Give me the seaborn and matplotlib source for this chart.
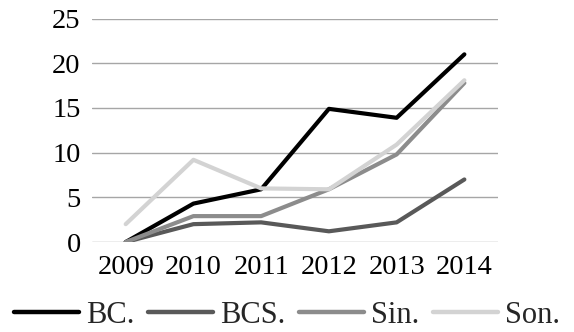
import matplotlib
matplotlib.use("Agg")
import matplotlib.pyplot as plt
import seaborn as sns
import pandas as pd

years = ["2009", "2010", "2011", "2012", "2013", "2014"]
bc = [0.0, 4.3, 5.9, 14.9, 13.9, 21.0]
bcs = [0.0, 2.0, 2.2, 1.2, 2.2, 7.0]
sin = [0.0, 2.9, 2.9, 5.9, 9.8, 17.8]
son = [2.0, 9.2, 6.0, 5.9, 10.9, 18.1]
series_names = ["BC.", "BCS.", "Sin.", "Son."]
palette = ["#000000", "#595959", "#8c8c8c", "#d3d3d3"]

frames = []
for name, vals in zip(series_names, [bc, bcs, sin, son]):
    frames.append(pd.DataFrame({"pos": range(len(years)), "value": vals, "serie": name}))
df = pd.concat(frames, ignore_index=True)

sns.set_theme(style="white")
plt.rcParams["font.family"] = ["Liberation Serif", "DejaVu Serif"]

fig = plt.figure(figsize=(5.74, 3.32), dpi=100)
ax = fig.add_axes([0.160, 0.271, 0.708, 0.673])

sns.lineplot(data=df, x="pos", y="value", hue="serie", hue_order=series_names,
             palette=palette, linewidth=3.0, ax=ax, legend=False,
             solid_joinstyle="round", solid_capstyle="round")

ax.set_xlim(-0.5, len(years) - 0.5)
ax.set_ylim(0, 25)
ax.set_yticks([0, 5, 10, 15, 20, 25])
ax.set_xticks(range(len(years)))
ax.set_xticklabels(years)
ax.set_xlabel("")
ax.set_ylabel("")
ax.grid(axis="y", color="#a6a6a6", linewidth=1.0)
ax.set_axisbelow(True)
for s in ax.spines.values():
    s.set_visible(False)
ax.tick_params(axis="both", labelsize=20.5, length=0, colors="#000000")
ax.tick_params(axis="y", pad=8)
ax.tick_params(axis="x", pad=9)

handles = [plt.Line2D([], [], color=c, linewidth=3.2) for c in palette]
fig.legend(handles, series_names, loc="center", bbox_to_anchor=(0.5, 0.05),
           ncol=4, frameon=False, fontsize=22, handlelength=2.12,
           handletextpad=0.23, columnspacing=0.45, borderpad=0)

fig.savefig("out.png", dpi=100)
